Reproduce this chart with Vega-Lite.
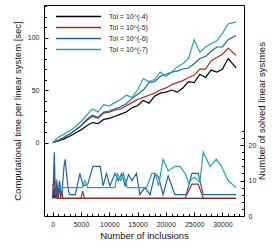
{
  "$schema": "https://vega.github.io/schema/vega-lite/v6.json",
  "width": 200,
  "height": 211,
  "autosize": {"type": "none"},
  "padding": {"left": 44, "top": 5, "right": 34, "bottom": 34},
  "config": {
    "view": {"stroke": "#000", "strokeWidth": 1},
    "font": "Liberation Sans",
    "axis": {"grid": false, "domain": false, "labelOverlap": false, "labelFlush": false, "labelFont": "Liberation Sans", "labelFontSize": 7, "labelColor": "#222", "titleFont": "Liberation Sans", "titleFontSize": 9.5, "titleFontWeight": "normal", "titleColor": "#111", "tickColor": "#000", "tickWidth": 1}
  },
  "datasets": {
    "time": [
      {"n":0,"tol":"-4","t":0},{"n":1000,"tol":"-4","t":1.5},{"n":2000,"tol":"-4","t":3.5},{"n":3000,"tol":"-4","t":6},{"n":4000,"tol":"-4","t":9},{"n":5000,"tol":"-4","t":12},{"n":6000,"tol":"-4","t":16},{"n":7000,"tol":"-4","t":19},{"n":8000,"tol":"-4","t":18},{"n":9000,"tol":"-4","t":22},{"n":10000,"tol":"-4","t":23},{"n":11000,"tol":"-4","t":25},{"n":12000,"tol":"-4","t":27},{"n":13000,"tol":"-4","t":29},{"n":14000,"tol":"-4","t":33},{"n":15000,"tol":"-4","t":35},{"n":16000,"tol":"-4","t":40},{"n":17000,"tol":"-4","t":37.5},{"n":18000,"tol":"-4","t":44},{"n":19000,"tol":"-4","t":47},{"n":20000,"tol":"-4","t":48},{"n":21000,"tol":"-4","t":50},{"n":22000,"tol":"-4","t":48},{"n":23000,"tol":"-4","t":52},{"n":24000,"tol":"-4","t":58},{"n":25000,"tol":"-4","t":57},{"n":26000,"tol":"-4","t":65},{"n":27000,"tol":"-4","t":62},{"n":28000,"tol":"-4","t":69},{"n":29000,"tol":"-4","t":67},{"n":30000,"tol":"-4","t":70},{"n":31000,"tol":"-4","t":80},{"n":32400,"tol":"-4","t":71},
      {"n":0,"tol":"-5","t":0},{"n":1000,"tol":"-5","t":2},{"n":2000,"tol":"-5","t":4.5},{"n":3000,"tol":"-5","t":8},{"n":4000,"tol":"-5","t":12},{"n":5000,"tol":"-5","t":16},{"n":6000,"tol":"-5","t":21},{"n":7000,"tol":"-5","t":25},{"n":8000,"tol":"-5","t":23},{"n":9000,"tol":"-5","t":28},{"n":10000,"tol":"-5","t":29},{"n":11000,"tol":"-5","t":31},{"n":12000,"tol":"-5","t":32},{"n":13000,"tol":"-5","t":35},{"n":14000,"tol":"-5","t":38},{"n":15000,"tol":"-5","t":41},{"n":16000,"tol":"-5","t":43},{"n":17000,"tol":"-5","t":45},{"n":18000,"tol":"-5","t":47},{"n":19000,"tol":"-5","t":50},{"n":20000,"tol":"-5","t":52},{"n":21000,"tol":"-5","t":55},{"n":22000,"tol":"-5","t":57},{"n":23000,"tol":"-5","t":59},{"n":24000,"tol":"-5","t":62},{"n":25000,"tol":"-5","t":64},{"n":26000,"tol":"-5","t":70},{"n":27000,"tol":"-5","t":70},{"n":28000,"tol":"-5","t":78},{"n":29000,"tol":"-5","t":81},{"n":30000,"tol":"-5","t":84},{"n":31000,"tol":"-5","t":90},{"n":32400,"tol":"-5","t":83},
      {"n":0,"tol":"-6","t":0},{"n":1000,"tol":"-6","t":2},{"n":2000,"tol":"-6","t":5},{"n":3000,"tol":"-6","t":8},{"n":4000,"tol":"-6","t":12},{"n":5000,"tol":"-6","t":16},{"n":6000,"tol":"-6","t":22},{"n":7000,"tol":"-6","t":26},{"n":8000,"tol":"-6","t":24},{"n":9000,"tol":"-6","t":29},{"n":10000,"tol":"-6","t":30},{"n":11000,"tol":"-6","t":32},{"n":12000,"tol":"-6","t":34},{"n":13000,"tol":"-6","t":37},{"n":14000,"tol":"-6","t":42},{"n":15000,"tol":"-6","t":46},{"n":16000,"tol":"-6","t":50},{"n":17000,"tol":"-6","t":57},{"n":18000,"tol":"-6","t":58},{"n":19000,"tol":"-6","t":63},{"n":20000,"tol":"-6","t":65},{"n":21000,"tol":"-6","t":67},{"n":22000,"tol":"-6","t":68},{"n":23000,"tol":"-6","t":70},{"n":24000,"tol":"-6","t":71},{"n":25000,"tol":"-6","t":75},{"n":26000,"tol":"-6","t":80},{"n":27000,"tol":"-6","t":82},{"n":28000,"tol":"-6","t":87},{"n":29000,"tol":"-6","t":91},{"n":30000,"tol":"-6","t":91},{"n":31000,"tol":"-6","t":98},{"n":32400,"tol":"-6","t":102},
      {"n":0,"tol":"-7","t":0},{"n":1000,"tol":"-7","t":5},{"n":2000,"tol":"-7","t":8},{"n":3000,"tol":"-7","t":11},{"n":4000,"tol":"-7","t":15},{"n":5000,"tol":"-7","t":20},{"n":6000,"tol":"-7","t":26},{"n":7000,"tol":"-7","t":32},{"n":8000,"tol":"-7","t":29},{"n":9000,"tol":"-7","t":36},{"n":10000,"tol":"-7","t":35},{"n":11000,"tol":"-7","t":38},{"n":12000,"tol":"-7","t":41},{"n":13000,"tol":"-7","t":45},{"n":14000,"tol":"-7","t":43},{"n":15000,"tol":"-7","t":50},{"n":16000,"tol":"-7","t":61},{"n":17000,"tol":"-7","t":58},{"n":18000,"tol":"-7","t":60},{"n":19000,"tol":"-7","t":67},{"n":20000,"tol":"-7","t":63},{"n":21000,"tol":"-7","t":67},{"n":22000,"tol":"-7","t":72},{"n":23000,"tol":"-7","t":75},{"n":24000,"tol":"-7","t":80},{"n":25000,"tol":"-7","t":98},{"n":26000,"tol":"-7","t":86},{"n":27000,"tol":"-7","t":91},{"n":28000,"tol":"-7","t":94},{"n":29000,"tol":"-7","t":97},{"n":30000,"tol":"-7","t":104},{"n":31000,"tol":"-7","t":113},{"n":32400,"tol":"-7","t":115}
    ],
    "count": [
      {"n":0,"tol":"-4","c":5},{"n":100,"tol":"-4","c":7},{"n":200,"tol":"-4","c":5},{"n":300,"tol":"-4","c":8},{"n":400,"tol":"-4","c":5},{"n":600,"tol":"-4","c":6},{"n":800,"tol":"-4","c":5},{"n":32400,"tol":"-4","c":5},
      {"n":0,"tol":"-5","c":5},{"n":100,"tol":"-5","c":9},{"n":200,"tol":"-5","c":6},{"n":300,"tol":"-5","c":11},{"n":400,"tol":"-5","c":5},{"n":500,"tol":"-5","c":8},{"n":600,"tol":"-5","c":6},{"n":700,"tol":"-5","c":10},{"n":800,"tol":"-5","c":5},{"n":900,"tol":"-5","c":7},{"n":1000,"tol":"-5","c":5},{"n":1200,"tol":"-5","c":9},{"n":1400,"tol":"-5","c":5},{"n":1600,"tol":"-5","c":7},{"n":1800,"tol":"-5","c":5},{"n":5000,"tol":"-5","c":5},{"n":5300,"tol":"-5","c":7},{"n":5600,"tol":"-5","c":5},{"n":23400,"tol":"-5","c":5},{"n":24600,"tol":"-5","c":9},{"n":25700,"tol":"-5","c":9},{"n":26600,"tol":"-5","c":5},{"n":32400,"tol":"-5","c":5},
      {"n":0,"tol":"-6","c":5},{"n":100,"tol":"-6","c":8},{"n":200,"tol":"-6","c":14},{"n":280,"tol":"-6","c":18},{"n":400,"tol":"-6","c":10},{"n":600,"tol":"-6","c":5},{"n":800,"tol":"-6","c":9},{"n":1000,"tol":"-6","c":6},{"n":1200,"tol":"-6","c":10},{"n":1400,"tol":"-6","c":7},{"n":1600,"tol":"-6","c":6},{"n":1800,"tol":"-6","c":10},{"n":2000,"tol":"-6","c":14},{"n":2200,"tol":"-6","c":16},{"n":2500,"tol":"-6","c":11},{"n":2800,"tol":"-6","c":7},{"n":3000,"tol":"-6","c":6},{"n":4000,"tol":"-6","c":6},{"n":4800,"tol":"-6","c":12},{"n":5400,"tol":"-6","c":8.5},{"n":6200,"tol":"-6","c":9},{"n":7100,"tol":"-6","c":14},{"n":8400,"tol":"-6","c":14},{"n":8900,"tol":"-6","c":8.5},{"n":9500,"tol":"-6","c":12},{"n":10100,"tol":"-6","c":8.5},{"n":11000,"tol":"-6","c":12},{"n":11600,"tol":"-6","c":10},{"n":12200,"tol":"-6","c":12},{"n":12800,"tol":"-6","c":8.5},{"n":13400,"tol":"-6","c":11.7},{"n":14000,"tol":"-6","c":10},{"n":14800,"tol":"-6","c":12},{"n":15400,"tol":"-6","c":6},{"n":16300,"tol":"-6","c":8},{"n":17200,"tol":"-6","c":6},{"n":18100,"tol":"-6","c":12},{"n":18700,"tol":"-6","c":11},{"n":19500,"tol":"-6","c":6},{"n":20400,"tol":"-6","c":11.3},{"n":21600,"tol":"-6","c":6},{"n":23600,"tol":"-6","c":6},{"n":24600,"tol":"-6","c":12},{"n":25700,"tol":"-6","c":12},{"n":26600,"tol":"-6","c":6},{"n":32400,"tol":"-6","c":6},
      {"n":0,"tol":"-7","c":8},{"n":300,"tol":"-7","c":8},{"n":700,"tol":"-7","c":10},{"n":1000,"tol":"-7","c":8},{"n":5200,"tol":"-7","c":8},{"n":5700,"tol":"-7","c":10},{"n":6200,"tol":"-7","c":8},{"n":11000,"tol":"-7","c":8},{"n":11400,"tol":"-7","c":12},{"n":12000,"tol":"-7","c":10},{"n":12500,"tol":"-7","c":12},{"n":13200,"tol":"-7","c":8},{"n":16600,"tol":"-7","c":8},{"n":17500,"tol":"-7","c":12},{"n":18100,"tol":"-7","c":12},{"n":18700,"tol":"-7","c":8.5},{"n":19500,"tol":"-7","c":16},{"n":20400,"tol":"-7","c":12.7},{"n":21600,"tol":"-7","c":14},{"n":22500,"tol":"-7","c":14},{"n":23400,"tol":"-7","c":12},{"n":24000,"tol":"-7","c":9.5},{"n":25000,"tol":"-7","c":11},{"n":26000,"tol":"-7","c":9.5},{"n":26600,"tol":"-7","c":18},{"n":27800,"tol":"-7","c":14},{"n":28900,"tol":"-7","c":16},{"n":29800,"tol":"-7","c":14},{"n":31000,"tol":"-7","c":10},{"n":32400,"tol":"-7","c":8}
    ]
  },
  "layer": [
    {
      "data": {"name": "time"},
      "mark": {"type": "line", "strokeWidth": 1.2},
      "encoding": {
        "x": {
          "field": "n", "type": "quantitative",
          "scale": {"domain": [-1540, 33800], "nice": false, "zero": false},
          "axis": {
            "title": "Number of inclusions",
            "orient": "bottom",
            "values": [0,5000,10000,15000,20000,25000,30000],
            "format": "d",
            "tickSize": -4,
            "labelPadding": 8,
            "titlePadding": 3
          }
        },
        "y": {
          "field": "t", "type": "quantitative",
          "scale": {"domain": [-70, 131], "nice": false, "zero": false},
          "axis": {
            "title": "Computational time per linear system [sec]",
            "orient": "left",
            "values": [0,10,20,30,40,50,60,70,80,90,100,110,120,130],
            "labelExpr": "datum.value % 50 === 0 ? datum.label : ''",
            "tickSize": {"condition": {"test": "datum.value % 50 === 0", "value": -4}, "value": -2.5},
            "labelPadding": 9,
            "titlePadding": 5
          }
        },
        "color": {
          "field": "tol", "type": "nominal",
          "scale": {"domain": ["-4", "-5", "-6", "-7"], "range": ["#000000", "#a82a1e", "#1f62a8", "#23a6a6"]},
          "legend": {
            "orient": "none", "legendX": 11, "legendY": 6, "title": null,
            "labelExpr": "'Tol = 10^(' + datum.label + ')'",
            "symbolType": "M-5,0H5", "symbolSize": 81, "symbolStrokeWidth": 1.6,
            "symbolOffset": 18, "labelOffset": 25,
            "labelFontSize": 7, "labelFont": "Liberation Sans", "labelColor": "#222",
            "rowPadding": 2, "padding": 0
          }
        }
      }
    },
    {
      "data": {"name": "count"},
      "mark": {"type": "line", "strokeWidth": 1.2},
      "encoding": {
        "x": {
          "field": "n", "type": "quantitative",
          "scale": {"domain": [-1540, 33800], "nice": false, "zero": false},
          "axis": {
            "title": null,
            "orient": "bottom",
            "labels": false,
            "values": [-1000,1000,2000,3000,4000,6000,7000,8000,9000,11000,12000,13000,14000,16000,17000,18000,19000,21000,22000,23000,24000,26000,27000,28000,29000,31000,32000,33000],
            "tickSize": -2.5
          }
        },
        "y": {
          "field": "c", "type": "quantitative",
          "scale": {"domain": [0, 59.5], "nice": false, "zero": false},
          "axis": {
            "title": "Number of solved linear systmes",
            "orient": "right",
            "titleAngle": 270,
            "values": [0,2,4,6,8,10,12,14,16,18,20,22,24],
            "labelExpr": "datum.value % 10 === 0 ? datum.label : ''",
            "tickSize": {"condition": {"test": "datum.value % 10 === 0", "value": -4}, "value": -2.5},
            "labelPadding": 8,
            "titlePadding": 11
          }
        },
        "color": {"field": "tol", "type": "nominal"}
      }
    }
  ],
  "resolve": {"scale": {"y": "independent", "x": "independent"}, "axis": {"x": "independent"}}
}
